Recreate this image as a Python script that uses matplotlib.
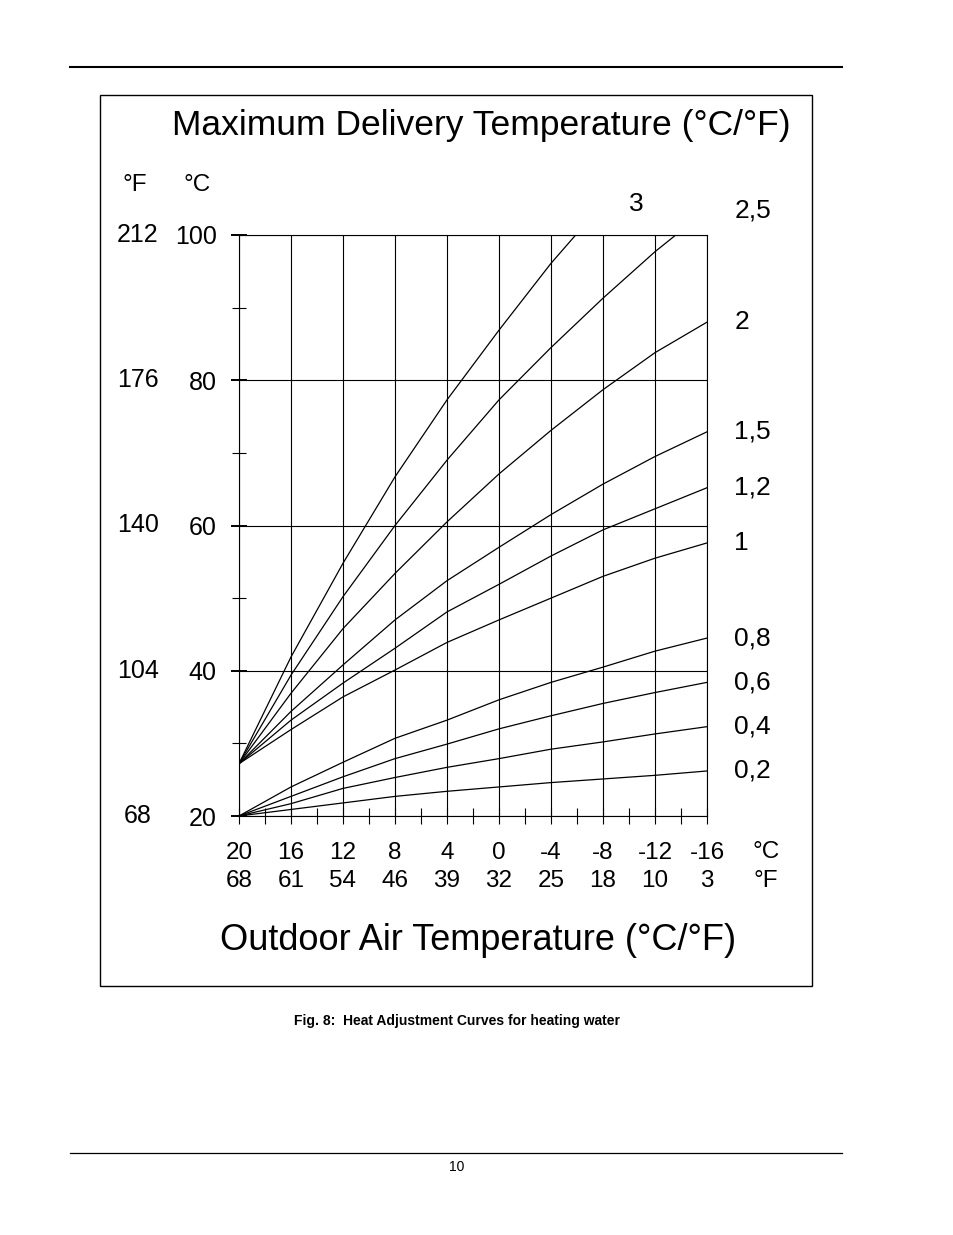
import matplotlib
matplotlib.use("Agg")
import matplotlib.pyplot as plt
from matplotlib.patches import Rectangle
from matplotlib.lines import Line2D

plt.rcParams['font.family'] = ['Liberation Sans', 'DejaVu Sans']

# outdoor temperature grid (°C) and the °F equivalents printed under it
outdoor_c = [20, 16, 12, 8, 4, 0, -4, -8, -12, -16]
outdoor_f = ['68', '61', '54', '46', '39', '32', '25', '18', '10', '3']

# delivery temperature axis
delivery_c = [20, 40, 60, 80, 100]
delivery_f = ['68', '104', '140', '176', '212']

# heat adjustment curves (°C delivery at each outdoor °C)
curve_3_x = [20, 16, 12, 8, 4, 0, -4, -5.9]
curve_3_y = [27.2, 41.9, 54.8, 66.7, 77.3, 86.9, 96.1, 100]
curve_25_x = [20, 16, 12, 8, 4, 0, -4, -8, -12, -13.6]
curve_25_y = [27.2, 39.4, 50.2, 60.0, 69.0, 77.3, 84.5, 91.3, 97.7, 100]
curve_2_y = [27.2, 36.9, 45.8, 53.4, 60.5, 67.1, 73.1, 78.7, 83.8, 88.0]
curve_15_y = [27.2, 34.4, 40.8, 47.0, 52.4, 57.0, 61.5, 65.7, 69.5, 72.9]
curve_12_y = [27.2, 33.2, 38.3, 43.1, 48.1, 51.9, 55.8, 59.4, 62.3, 65.2]
curve_1_y = [27.2, 31.9, 36.4, 40.1, 43.9, 47.0, 50.0, 53.0, 55.5, 57.6]
curve_08_y = [20, 24.0, 27.4, 30.7, 33.2, 36.0, 38.4, 40.5, 42.7, 44.5]
curve_06_y = [20, 22.7, 25.4, 27.9, 29.9, 32.0, 33.8, 35.5, 37.0, 38.4]
curve_04_y = [20, 21.7, 23.8, 25.3, 26.7, 27.9, 29.2, 30.2, 31.3, 32.3]
curve_02_y = [20, 20.9, 21.8, 22.7, 23.4, 24.0, 24.6, 25.1, 25.6, 26.2]

W, H = 954, 1235
fig = plt.figure(figsize=(W / 100, H / 100), dpi=100)

# page decorations: rules, frame, captions
fig.add_artist(Line2D([70 / W, 842 / W], [1 - 67 / H] * 2, color='black', lw=1.5))
fig.add_artist(Line2D([70 / W, 842 / W], [1 - 1153 / H] * 2, color='black', lw=0.9))
fig.add_artist(Rectangle((100 / W, 1 - 986 / H), 712 / W, 891 / H, fill=False,
                         ec='black', lw=1.0))
fig.text(481 / W, 1 - 125 / H, 'Maximum Delivery Temperature (°C/°F)',
         ha='center', va='center', fontsize=25.5)
fig.text(478 / W, 1 - 940 / H, 'Outdoor Air Temperature (°C/°F)',
         ha='center', va='center', fontsize=26)
fig.text(457 / W, 1 - 1021 / H, 'Fig. 8:  Heat Adjustment Curves for heating water',
         ha='center', va='center', fontsize=10, fontweight='bold')
fig.text(457 / W, 1 - 1167 / H, '10', ha='center', va='center', fontsize=10)

ax = fig.add_axes([239 / W, 1 - 816 / H, 468 / W, 581 / H])
ax.set_xlim(20, -16)
ax.set_ylim(20, 100)

ax.set_xticks(outdoor_c)
ax.set_xticks(list(range(18, -16, -4)), minor=True)
ax.set_xticklabels([str(c) for c in outdoor_c], fontsize=17.5)
ax.set_yticks(delivery_c)
ax.set_yticks([30, 50, 70, 90], minor=True)
ax.set_yticklabels([str(c) for c in delivery_c], fontsize=18)

ax.grid(True, which='major', color='black', lw=0.8)
ax.tick_params(axis='x', which='both', direction='inout', length=11, width=0.8, pad=13)
ax.tick_params(axis='y', which='major', direction='inout', length=12, width=1.4, pad=10)
ax.tick_params(axis='y', which='minor', direction='inout', length=10, width=0.8)
for sp in ax.spines.values():
    sp.set_linewidth(0.8)

# curves
ax.plot(curve_3_x, curve_3_y, color='black', lw=0.9)
ax.plot(curve_25_x, curve_25_y, color='black', lw=0.9)
rest = [('2', curve_2_y), ('1,5', curve_15_y), ('1,2', curve_12_y), ('1', curve_1_y),
        ('0,8', curve_08_y), ('0,6', curve_06_y), ('0,4', curve_04_y), ('0,2', curve_02_y)]
for name, ys in rest:
    ax.plot(outdoor_c, ys, color='black', lw=0.9)
    ax.text(1.058, ys[-1], name, transform=ax.get_yaxis_transform(),
            ha='left', va='center', fontsize=19)

ax.text(0.848, 1.053, '3', transform=ax.transAxes, ha='center', va='center', fontsize=19)
ax.text(1.058, 1.043, '2,5', transform=ax.transAxes, ha='left', va='center', fontsize=19)

# Fahrenheit labels
for c, f in zip(delivery_c, delivery_f):
    ax.text(-0.2158, c, f, transform=ax.get_yaxis_transform(),
            ha='center', va='center', fontsize=18)
for c, f in zip(outdoor_c, outdoor_f):
    ax.text(c, -0.1115, f, transform=ax.get_xaxis_transform(),
            ha='center', va='center', fontsize=17.5)

ax.text(-0.222, 1.086, '°F', transform=ax.transAxes, ha='center', va='center', fontsize=17.5)
ax.text(-0.090, 1.086, '°C', transform=ax.transAxes, ha='center', va='center', fontsize=17.5)
ax.text(1.126, -0.0615, '°C', transform=ax.transAxes, ha='center', va='center', fontsize=17.5)
ax.text(1.126, -0.1115, '°F', transform=ax.transAxes, ha='center', va='center', fontsize=17.5)

fig.savefig('out.png', dpi=100)
